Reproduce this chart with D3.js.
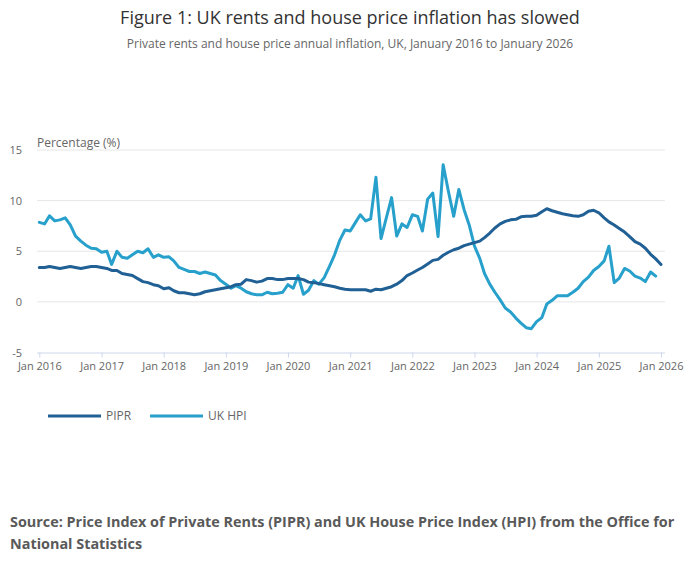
<!DOCTYPE html>
<html>
<head>
<meta charset="utf-8">
<script src="https://cdn.jsdelivr.net/npm/d3@7"></script>
<style>
  html, body { margin: 0; padding: 0; background: #fff; }
  svg { display: block; font-family: "Open Sans", sans-serif; }
</style>
</head>
<body>
<div id="chart"></div>
<script>
// monthly annual-rate values, Jan 2016 onward
var startMonth = "2016-01";
var pipr = [
  3.4, 3.4, 3.5, 3.4, 3.3, 3.4, 3.5, 3.4, 3.3, 3.4, 3.5, 3.5,
  3.4, 3.3, 3.1, 3.1, 2.8, 2.7, 2.6, 2.3, 2.0, 1.9, 1.7, 1.6,
  1.3, 1.4, 1.1, 0.9, 0.9, 0.8, 0.7, 0.8, 1.0, 1.1, 1.2, 1.3,
  1.4, 1.5, 1.7, 1.75, 2.2, 2.1, 1.95, 2.05, 2.3, 2.3, 2.2, 2.2,
  2.3, 2.3, 2.3, 2.2, 1.95, 1.9, 1.8, 1.7, 1.6, 1.5, 1.35, 1.25,
  1.2, 1.2, 1.2, 1.2, 1.05, 1.25, 1.2, 1.35, 1.5, 1.75, 2.1, 2.6,
  2.85, 3.15, 3.4, 3.75, 4.1, 4.2, 4.6, 4.9, 5.15, 5.3, 5.55, 5.7,
  5.85, 6.0, 6.35, 6.8, 7.3, 7.7, 7.95, 8.1, 8.15, 8.4, 8.45, 8.45,
  8.55, 8.9, 9.2, 9.0, 8.85, 8.7, 8.6, 8.5, 8.45, 8.6, 8.95, 9.05,
  8.8, 8.3, 7.9, 7.6, 7.25, 6.9, 6.45, 5.95, 5.7, 5.3, 4.7, 4.25,
  3.7
];
var hpi = [
  7.85, 7.7, 8.5, 8.0, 8.1, 8.3, 7.6, 6.5, 6.0, 5.6, 5.3, 5.25,
  4.9, 5.0, 3.7, 5.0, 4.4, 4.3, 4.65, 5.0, 4.85, 5.25, 4.4, 4.65,
  4.4, 4.45, 4.05, 3.4, 3.2, 3.0, 3.0, 2.8, 2.95, 2.8, 2.65, 2.1,
  1.75, 1.35, 1.6, 1.35, 1.0, 0.8, 0.7, 0.7, 0.95, 0.8, 0.85, 0.95,
  1.7, 1.35, 2.6, 0.75, 1.15, 2.1, 1.75, 2.4, 3.5, 4.65, 6.1, 7.1,
  7.0, 7.85, 8.6, 8.0, 8.2, 12.3, 6.25, 8.3, 10.3, 6.5, 7.7, 7.35,
  8.6, 8.45, 7.0, 10.15, 10.75, 6.45, 13.55, 10.9, 8.45, 11.1, 9.1, 7.6,
  5.5, 4.3, 2.8, 1.75, 0.95, 0.2, -0.6, -1.0, -1.6, -2.1, -2.55, -2.65,
  -1.95, -1.55, -0.2, 0.15, 0.6, 0.6, 0.6, 0.95, 1.35, 2.0, 2.45, 3.1,
  3.5, 4.05, 5.5, 1.9, 2.35, 3.3, 3.05, 2.55, 2.35, 2.0, 2.95, 2.55
];
var yTicks = [-5, 0, 5, 10, 15];
var xTickYears = [2016, 2017, 2018, 2019, 2020, 2021, 2022, 2023, 2024, 2025, 2026];
var seriesNames = ["PIPR", "UK HPI"];
var seriesColors = ["#206095", "#27a0cc"];

var W = 700, H = 574;
var parse = d3.timeParse("%Y-%m");
var t0 = parse(startMonth);
function monthDate(i) { return d3.timeMonth.offset(t0, i); }

var x = d3.scaleTime()
  .domain([t0, new Date(2026, 0, 1)])
  .range([39.3, 661]);
var y = d3.scaleLinear().domain([-5, 15]).range([352.5, 150]);

var svg = d3.select("#chart").append("svg")
  .attr("width", W).attr("height", H)
  .attr("viewBox", "0 0 " + W + " " + H);

/* titles */
svg.append("text")
  .attr("x", W / 2).attr("y", 24)
  .attr("text-anchor", "middle")
  .attr("fill", "#333").style("font-size", "18px")
  .text("Figure 1: UK rents and house price inflation has slowed");
svg.append("text")
  .attr("x", W / 2).attr("y", 48)
  .attr("text-anchor", "middle")
  .attr("fill", "#666").style("font-size", "12px")
  .text("Private rents and house price annual inflation, UK, January 2016 to January 2026");

/* gridlines + y labels */
var grid = svg.append("g");
yTicks.forEach(function (v) {
  if (v > -5) {
    grid.append("line")
      .attr("x1", 37).attr("x2", 665)
      .attr("y1", y(v)).attr("y2", y(v))
      .attr("stroke", "#e6e6e6").attr("stroke-width", 1);
  }
  grid.append("text")
    .attr("x", 22).attr("y", y(v) + 4)
    .attr("text-anchor", "end")
    .attr("fill", "#666").style("font-size", "11px")
    .text(v);
});

svg.append("text")
  .attr("x", 37).attr("y", 147)
  .attr("fill", "#666").style("font-size", "12px")
  .text("Percentage (%)");

/* x axis */
var xAxis = d3.axisBottom(x)
  .tickValues(xTickYears.map(function (yr) { return new Date(yr, 0, 1); }))
  .tickFormat(d3.timeFormat("Jan %Y"))
  .tickSize(5)
  .tickSizeOuter(0);
var gx = svg.append("g")
  .attr("transform", "translate(0," + y(-5) + ")")
  .call(xAxis);
gx.select(".domain").attr("d", "M37,0.5H665").attr("stroke", "#ccd6eb");
gx.selectAll(".tick line").attr("stroke", "#ccd6eb");
gx.selectAll(".tick text")
  .attr("fill", "#666").attr("dy", "0.9em")
  .style("font-size", "11px").style("font-family", "'Open Sans', sans-serif");

/* lines */
var line = d3.line()
  .defined(function (d) { return d != null; })
  .x(function (d, i) { return x(monthDate(i)); })
  .y(function (d) { return y(d); });

[hpi, pipr].forEach(function (s) {
  var idx = s === pipr ? 0 : 1;
  svg.append("path")
    .datum(s)
    .attr("fill", "none")
    .attr("stroke", seriesColors[idx])
    .attr("stroke-width", 3)
    .attr("stroke-linejoin", "round")
    .attr("stroke-linecap", "round")
    .attr("d", line);
});

/* legend */
var legendX = [48, 150];
seriesNames.forEach(function (n, i) {
  var g = svg.append("g").attr("transform", "translate(" + legendX[i] + ",416)");
  g.append("line").attr("x1", 0).attr("x2", 53).attr("y1", 0).attr("y2", 0)
    .attr("stroke", seriesColors[i]).attr("stroke-width", 3);
  g.append("text").attr("x", 58).attr("y", 4)
    .attr("fill", "#666").style("font-size", "12px").text(n);
});

/* source */
var src = ["Source: Price Index of Private Rents (PIPR) and UK House Price Index (HPI) from the Office for",
           "National Statistics"];
src.forEach(function (s, i) {
  svg.append("text")
    .attr("x", 10).attr("y", 527 + i * 22)
    .attr("fill", "#595959").style("font-size", "14.4px").style("font-weight", "bold")
    .text(s);
});
</script>
</body>
</html>
